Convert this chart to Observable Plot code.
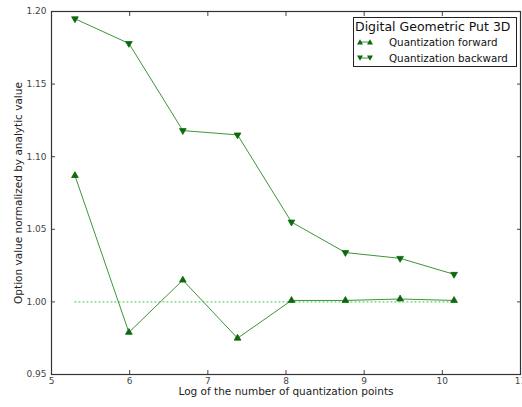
<!DOCTYPE html>
<html><head><meta charset="utf-8">
<script src="https://cdn.jsdelivr.net/npm/d3@7"></script>
<script src="https://cdn.jsdelivr.net/npm/@observablehq/plot@0.6"></script>
<style>
body{margin:0;background:#fff;}
#wrap{position:relative;width:522px;height:407px;font-family:"DejaVu Sans",sans-serif;}
#legend{position:absolute;left:353px;top:17px;width:164px;height:50px;border:1px solid #222;background:#fff;box-sizing:border-box;color:#111;}
#legend .title{position:absolute;left:1px;top:1px;font-size:12.5px;white-space:nowrap;line-height:15px;}
#legend .row{position:absolute;left:2px;height:12px;white-space:nowrap;font-size:10.3px;line-height:12px;}
#legend .row svg{position:absolute;left:0;top:0;}
#legend .row span{position:absolute;left:33px;top:0;}
</style></head><body><div id="wrap"></div>
<script>
const logPoints = [5.30, 5.99, 6.68, 7.38, 8.07, 8.76, 9.46, 10.15];
const forward = [1.087, 0.979, 1.015, 0.975, 1.001, 1.001, 1.002, 1.001];
const backward = [1.195, 1.178, 1.118, 1.115, 1.055, 1.034, 1.030, 1.019];
const referenceLevel = [1, 1, 1, 1, 1, 1, 1, 1];
const xTicks = [5, 6, 7, 8, 9, 10, 11];
const yTicks = [0.95, 1.00, 1.05, 1.10, 1.15, 1.20];
const seriesNames = ["Quantization forward", "Quantization backward"];
const legendTitle = "Digital Geometric Put 3D";
const xLabel = "Log of the number of quantization points";
const yLabel = "Option value normalized by analytic value";

const lineColor = "#3a963a";
const markerColor = "#0c690c";
const refColor = "#6fcf6f";

const fwd = logPoints.map((x, i) => ({x, y: forward[i]}));
const bwd = logPoints.map((x, i) => ({x, y: backward[i]}));
const ref = logPoints.map((x, i) => ({x, y: referenceLevel[i]}));

const plot = Plot.plot({
  width: 522, height: 407,
  marginLeft: 51, marginRight: 2, marginTop: 11, marginBottom: 33,
  style: {fontFamily: "DejaVu Sans, sans-serif", fontSize: "9px", color: "#333", background: "#fff"},
  x: {domain: [5, 11]},
  y: {domain: [0.95, 1.20]},
  marks: [
    Plot.line(ref, {x: "x", y: "y", stroke: refColor, strokeWidth: 1.3, strokeDasharray: "1,3"}),
    Plot.line(fwd, {x: "x", y: "y", stroke: lineColor, strokeWidth: 1}),
    Plot.line(bwd, {x: "x", y: "y", stroke: lineColor, strokeWidth: 1}),
    Plot.dot(fwd, {x: "x", y: "y", symbol: "triangle", r: 2.5, fill: markerColor, stroke: markerColor, strokeWidth: 0.8}),
    Plot.dot(bwd, {x: "x", y: "y", symbol: "triangle", r: 2.5, rotate: 180, fill: markerColor, stroke: markerColor, strokeWidth: 0.8}),
    Plot.axisX(xTicks, {anchor: "bottom", tickSize: 0, tickPadding: 3, label: null, fill: "#444"}),
    Plot.axisX(xTicks, {anchor: "bottom", tickSize: -4, text: null, label: null, stroke: "#444"}),
    Plot.axisX(xTicks, {anchor: "top", tickSize: -4, text: null, label: null, stroke: "#444"}),
    Plot.axisY(yTicks, {anchor: "left", tickSize: 0, tickPadding: 5, tickFormat: d3.format(".2f"), label: null, fill: "#444"}),
    Plot.axisY(yTicks, {anchor: "left", tickSize: -4, text: null, label: null, stroke: "#444"}),
    Plot.axisY(yTicks, {anchor: "right", tickSize: -4, text: null, label: null, stroke: "#444"}),
    Plot.frame({stroke: "#333", strokeWidth: 1.2}),
    Plot.text([xLabel], {text: d => d, frameAnchor: "bottom", dy: 20, fontSize: 10.5, fill: "#222"}),
    Plot.text([yLabel], {text: d => d, frameAnchor: "left", textAnchor: "middle", dx: -33, rotate: -90, fontSize: 10.5, fill: "#222"})
  ]
});

const wrap = document.getElementById("wrap");
wrap.appendChild(plot);

function markerSvg(down) {
  const ns = "http://www.w3.org/2000/svg";
  const svg = document.createElementNS(ns, "svg");
  svg.setAttribute("width", "18"); svg.setAttribute("height", "12");
  const line = document.createElementNS(ns, "line");
  line.setAttribute("x1", 4); line.setAttribute("x2", 14); line.setAttribute("y1", 6); line.setAttribute("y2", 6);
  line.setAttribute("stroke", lineColor);
  svg.appendChild(line);
  for (const cx of [4, 14]) {
    const p = document.createElementNS(ns, "path");
    const t = down ? "M-3,-2.5L3,-2.5L0,2.7Z" : "M-3,2.5L3,2.5L0,-2.7Z";
    p.setAttribute("d", t);
    p.setAttribute("transform", `translate(${cx},6)`);
    p.setAttribute("fill", markerColor);
    svg.appendChild(p);
  }
  return svg;
}

const legend = document.createElement("div");
legend.id = "legend";
const title = document.createElement("div");
title.className = "title"; title.textContent = legendTitle;
legend.appendChild(title);
seriesNames.forEach((name, i) => {
  const row = document.createElement("div");
  row.className = "row";
  row.style.top = (18 + i * 16) + "px";
  row.appendChild(markerSvg(i === 1));
  const s = document.createElement("span"); s.textContent = name;
  row.appendChild(s);
  legend.appendChild(row);
});
wrap.appendChild(legend);
</script>
</body></html>
